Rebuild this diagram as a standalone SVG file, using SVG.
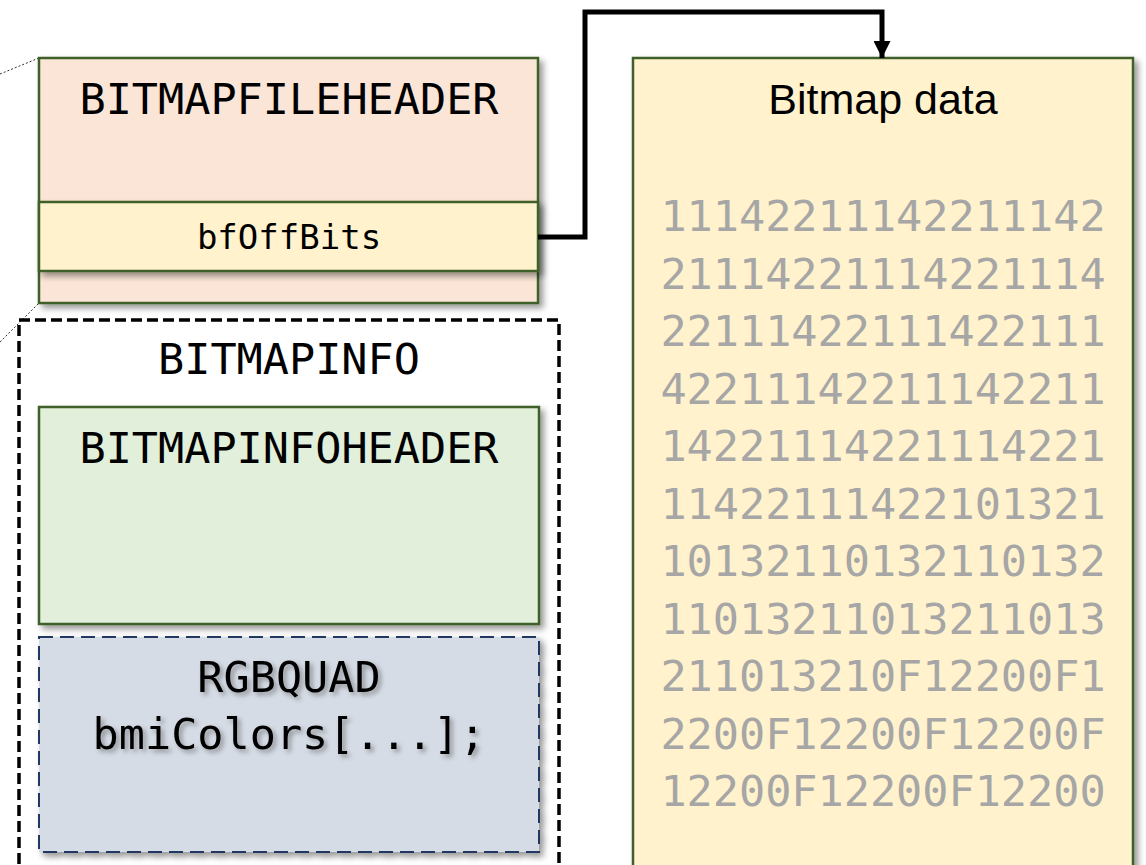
<svg xmlns="http://www.w3.org/2000/svg" width="1146" height="865" viewBox="0 0 1146 865">
<style>
.mono{font-family:"DejaVu Sans Mono","Liberation Mono",monospace;text-anchor:middle;fill:#000}
.big{font-size:43.5px}
.small{font-size:34px}
.box{stroke:#3F6129;stroke-width:2.5}
.digits{font-family:"DejaVu Sans Mono","Liberation Mono",monospace;font-size:43.5px;fill:#A6A6A6;text-anchor:middle}
.zoomline{stroke:#333;stroke-width:1;stroke-dasharray:2,2;fill:none}
</style>
<defs>
<filter id="sh" x="-10%" y="-10%" width="125%" height="125%">
<feDropShadow dx="4" dy="4" stdDeviation="3" flood-color="#000" flood-opacity="0.4"/>
</filter>
<filter id="tsh" x="-10%" y="-20%" width="125%" height="150%">
<feDropShadow dx="3" dy="3" stdDeviation="2.5" flood-color="#000" flood-opacity="0.35"/>
</filter>
<marker id="arr" viewBox="0 0 10 10" refX="10" refY="5" markerWidth="3.4" markerHeight="3.4" orient="auto" markerUnits="strokeWidth">
<path d="M0,0 L10,5 L0,10 z" fill="#000"/>
</marker>
</defs>
<rect width="1146" height="865" fill="#fff"/>
<g id="zoom-lines">
<line class="zoomline" x1="0" y1="74" x2="39" y2="58"/>
<line class="zoomline" x1="0" y1="342" x2="39" y2="303"/>
</g>
<g id="bitmapfileheader">
<rect class="box" x="39" y="58" width="499" height="245" fill="#FBE5D6" filter="url(#sh)"/>
<text class="mono big" x="289" y="114">BITMAPFILEHEADER</text>
</g>
<g id="bfoffbits">
<rect class="box" x="39" y="202" width="499" height="69" fill="#FFF2CC" filter="url(#sh)"/>
<text class="mono small" x="289" y="249">bfOffBits</text>
</g>
<g id="bitmapinfo">
<rect x="19" y="320" width="540" height="580" fill="none" stroke="#000" stroke-width="3.5" stroke-dasharray="11,5"/>
<text class="mono big" x="289" y="374">BITMAPINFO</text>
</g>
<g id="bitmapinfoheader">
<rect class="box" x="39" y="407" width="500" height="217" fill="#E2EFDA" filter="url(#sh)"/>
<text class="mono big" x="289" y="463">BITMAPINFOHEADER</text>
</g>
<g id="rgbquad">
<rect x="39" y="637" width="500" height="215" fill="#D6DCE5" stroke="#203864" stroke-width="2" stroke-dasharray="14,7" filter="url(#sh)"/>
<text class="mono big" x="289" y="692" filter="url(#tsh)">RGBQUAD</text>
<text class="mono big" x="289" y="749" filter="url(#tsh)">bmiColors[...];</text>
</g>
<g id="bitmapdata">
<rect class="box" x="633" y="58" width="500" height="840" fill="#FFF2CC" filter="url(#sh)"/>
<text x="883" y="114" font-family="Liberation Sans, Arial, sans-serif" font-size="43" text-anchor="middle" fill="#000">Bitmap data</text>
<text class="digits" x="883" y="231">11142211142211142</text>
<text class="digits" x="883" y="288.5">21114221114221114</text>
<text class="digits" x="883" y="346">22111422111422111</text>
<text class="digits" x="883" y="403.5">42211142211142211</text>
<text class="digits" x="883" y="461">14221114221114221</text>
<text class="digits" x="883" y="518.5">11422111422101321</text>
<text class="digits" x="883" y="576">10132110132110132</text>
<text class="digits" x="883" y="633.5">11013211013211013</text>
<text class="digits" x="883" y="691">211013210F12200F1</text>
<text class="digits" x="883" y="748.5">2200F12200F12200F</text>
<text class="digits" x="883" y="806">12200F12200F12200</text>
</g>
<g id="connectors">
<path d="M538,237 H585 V12 H882 V58" fill="none" stroke="#000" stroke-width="5" marker-end="url(#arr)"/>
</g>
</svg>
